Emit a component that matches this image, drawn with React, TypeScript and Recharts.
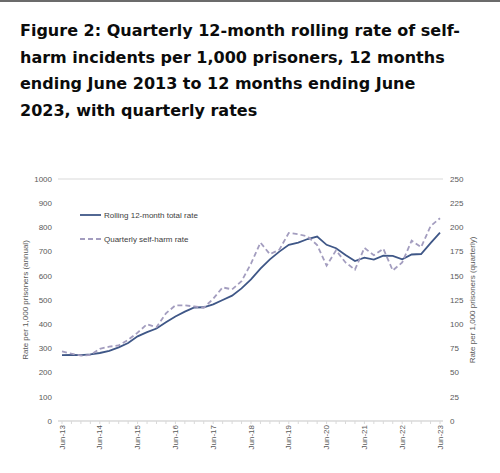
import React from 'react';
import { LineChart, Line, XAxis, YAxis, CartesianGrid, Legend } from 'recharts';

// Quarter-end labels (12 months ending ...)
const quarters = [
  'Jun-13', 'Sep-13', 'Dec-13',
  'Mar-14', 'Jun-14', 'Sep-14', 'Dec-14',
  'Mar-15', 'Jun-15', 'Sep-15', 'Dec-15',
  'Mar-16', 'Jun-16', 'Sep-16', 'Dec-16',
  'Mar-17', 'Jun-17', 'Sep-17', 'Dec-17',
  'Mar-18', 'Jun-18', 'Sep-18', 'Dec-18',
  'Mar-19', 'Jun-19', 'Sep-19', 'Dec-19',
  'Mar-20', 'Jun-20', 'Sep-20', 'Dec-20',
  'Mar-21', 'Jun-21', 'Sep-21', 'Dec-21',
  'Mar-22', 'Jun-22', 'Sep-22', 'Dec-22',
  'Mar-23', 'Jun-23',
];

// Rolling 12-month rate per 1,000 prisoners (annual, left axis)
const rollingRate = [
  272, 273, 272, 275, 281, 290, 304, 322, 350, 367,
  382, 408, 432, 452, 469, 470, 482, 500, 518, 548,
  585, 630, 668, 700, 728, 737, 752, 762, 728, 714,
  686, 661, 675, 667, 683, 682, 668, 688, 690, 735, 778,
];

// Quarterly self-harm rate per 1,000 prisoners (right axis)
const quarterlyRate = [
  71.8, 69.5, 67.5, 68.3, 74.5, 76.8, 78.0, 83.8, 91.3, 100.0,
  96.8, 111.3, 119.5, 119.5, 118.3, 117.0, 126.3, 138.0, 136.0, 144.5,
  162.5, 184.3, 172.3, 177.0, 194.3, 193.0, 190.5, 181.8, 160.5, 176.3,
  163.8, 156.3, 178.8, 171.3, 178.0, 155.5, 163.8, 186.3, 179.5, 201.3, 209.5,
];

const annualTicks = [0, 100, 200, 300, 400, 500, 600, 700, 800, 900, 1000];
const quarterlyTicks = [0, 25, 50, 75, 100, 125, 150, 175, 200, 225, 250];

const seriesOrder = ['rolling', 'quarterly'];

const titleLines = [
  'Figure 2: Quarterly 12-month rolling rate of self-',
  'harm incidents per 1,000 prisoners, 12 months',
  'ending June 2013 to 12 months ending June',
  '2023, with quarterly rates',
];

const data = quarters.map((q, i) => ({
  quarter: q,
  rolling: rollingRate[i],
  quarterly: quarterlyRate[i],
}));

const AXIS_FONT = '"Liberation Sans", Arial, sans-serif';
const TICK_COLOUR = '#595959';
const GRID_COLOUR = '#d9d9d9';
const ROLLING_COLOUR = '#3f5787';
const QUARTERLY_COLOUR = '#a39dbf';

const QuarterTick = (props: any) => {
  const { x, y, payload } = props;
  const label: string = payload.value;
  const showLabel = label.startsWith('Jun');
  return (
    <g>
      <line x1={x} x2={x} y1={y} y2={y + 3} stroke={GRID_COLOUR} strokeWidth={1} />
      {showLabel && (
        <text
          transform={`translate(${x},${y + 4}) rotate(-90)`}
          textAnchor="end"
          dominantBaseline="central"
          fontSize={8}
          fontFamily={AXIS_FONT}
          fill={TICK_COLOUR}
        >
          {label}
        </text>
      )}
    </g>
  );
};

const AxisTitle = ({ viewBox, value, dx }: any) => {
  const cx = viewBox.x + dx;
  const cy = viewBox.y + viewBox.height / 2;
  return (
    <text
      transform={`translate(${cx},${cy}) rotate(-90)`}
      textAnchor="middle"
      dominantBaseline="central"
      fontSize={8}
      fontFamily={AXIS_FONT}
      fill={TICK_COLOUR}
    >
      {value}
    </text>
  );
};

const SeriesLegend = ({ payload }: any) => {
  const entries = [...(payload || [])].sort(
    (a: any, b: any) => seriesOrder.indexOf(a.dataKey) - seriesOrder.indexOf(b.dataKey),
  );
  return (
    <div style={{ fontFamily: AXIS_FONT, fontSize: 8, color: '#404040' }}>
      {entries.map((entry: any) => (
        <div
          key={entry.value}
          style={{ display: 'flex', alignItems: 'center', height: 24 }}
        >
          <svg width={22} height={6} style={{ marginRight: 2 }}>
            <line
              x1={0}
              x2={21}
              y1={3}
              y2={3}
              stroke={entry.color}
              strokeWidth={1.8}
              strokeDasharray={entry.payload?.strokeDasharray}
            />
          </svg>
          <span>{entry.value}</span>
        </div>
      ))}
    </div>
  );
};

export default function App() {
  return (
    <div
      style={{
        position: 'absolute',
        left: 0,
        top: 0,
        width: 500,
        height: 473,
        background: '#ffffff',
        overflow: 'hidden',
      }}
    >
      <div style={{ position: 'absolute', left: 0, top: 0, width: 500, height: 2, background: '#6b6b6b' }} />
      <div
        style={{
          position: 'absolute',
          left: 20,
          top: 18,
          fontFamily: '"DejaVu Sans", "Noto Sans", Arial, sans-serif',
          fontWeight: 700,
          fontSize: 16,
          letterSpacing: 0,
          lineHeight: '26.7px',
          color: '#0b0c0c',
          whiteSpace: 'nowrap',
        }}
      >
        {titleLines.map((line) => (
          <div key={line}>{line}</div>
        ))}
      </div>
      <div style={{ position: 'absolute', left: 0, top: 160 }}>
        <LineChart
          width={500}
          height={313}
          data={data}
          margin={{ top: 19, right: 0, bottom: 0, left: 0 }}
        >
          <CartesianGrid vertical={false} stroke={GRID_COLOUR} strokeWidth={1} />
          <XAxis
            dataKey="quarter"
            interval={0}
            height={52}
            tickSize={0}
            tickMargin={0}
            tick={<QuarterTick />}
            axisLine={{ stroke: GRID_COLOUR }}
            tickLine={false}
            padding={{ left: 4, right: 3 }}
          />
          <YAxis
            yAxisId="annual"
            orientation="left"
            width={58}
            domain={[0, 1000]}
            ticks={annualTicks}
            interval={0}
            axisLine={false}
            tickLine={false}
            tickSize={0}
            tickMargin={6}
            tick={{ fontSize: 8, fontFamily: AXIS_FONT, fill: TICK_COLOUR }}
            label={<AxisTitle value="Rate per 1,000 prisoners (annual)" dx={25} />}
          />
          <YAxis
            yAxisId="quarterly"
            orientation="right"
            width={57}
            domain={[0, 250]}
            ticks={quarterlyTicks}
            interval={0}
            axisLine={false}
            tickLine={false}
            tickSize={0}
            tickMargin={7}
            tick={{ fontSize: 8, fontFamily: AXIS_FONT, fill: TICK_COLOUR, textAnchor: 'start' }}
            label={<AxisTitle value="Rate per 1,000 prisoners (quarterly)" dx={29} />}
          />
          <Legend
            layout="horizontal"
            verticalAlign="middle"
            align="center"
            content={<SeriesLegend />}
            wrapperStyle={{ position: 'absolute', left: 80, top: 43, width: 200, height: 48 }}
          />
          <Line
            yAxisId="annual"
            dataKey="rolling"
            name="Rolling 12-month total rate"
            stroke={ROLLING_COLOUR}
            strokeWidth={1.8}
            dot={false}
            isAnimationActive={false}
          />
          <Line
            yAxisId="quarterly"
            dataKey="quarterly"
            name="Quarterly self-harm rate"
            stroke={QUARTERLY_COLOUR}
            strokeWidth={1.8}
            strokeDasharray="5 3"
            dot={false}
            isAnimationActive={false}
          />
        </LineChart>
      </div>
    </div>
  );
}
